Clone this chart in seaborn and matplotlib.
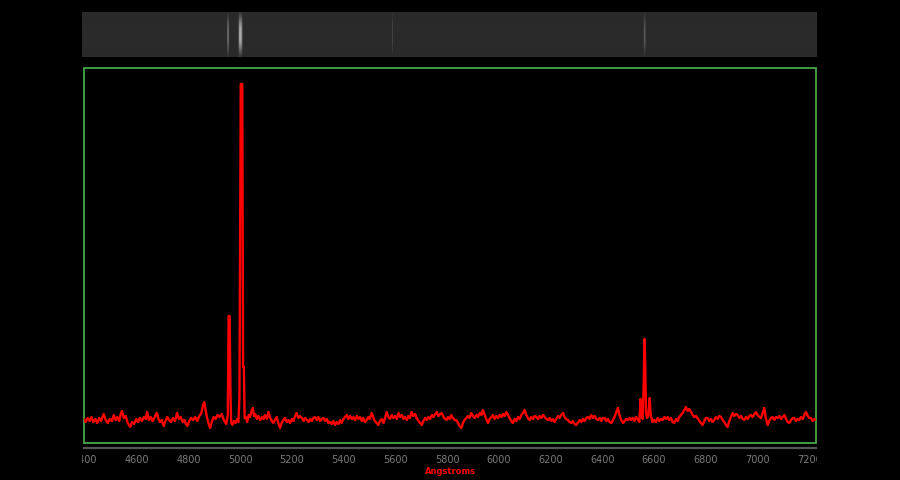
import numpy as np
import seaborn as sns
import matplotlib.pyplot as plt
from matplotlib.patches import Rectangle
from matplotlib.transforms import Bbox, TransformedBbox

# spectrum (flux in arbitrary units, continuum ~24)
blue_wl = [4395, 4402, 4410, 4418, 4425, 4432, 4440, 4447, 4455, 4462, 4472, 4480, 4488, 4496, 4504,
           4511, 4518, 4525, 4532, 4538, 4543, 4550, 4557, 4565, 4570, 4575, 4582, 4590, 4598, 4605,
           4612, 4620, 4628, 4635, 4640, 4647, 4654, 4661, 4668, 4673, 4678, 4684, 4690, 4697, 4704,
           4711, 4718, 4725, 4732, 4740, 4748, 4756, 4763, 4770, 4777, 4784, 4790, 4796, 4803, 4810,
           4818, 4826, 4834, 4842, 4850, 4856, 4861, 4866, 4872, 4878, 4884, 4890, 4897, 4905, 4912,
           4920, 4928, 4935, 4941, 4946, 4952, 4955, 4959, 4962, 4965, 4970, 4976, 4982, 4988, 4993,
           4997, 5002, 5008, 5011, 5014, 5017, 5022, 5027, 5033, 5038, 5044, 5049, 5053, 5058, 5064,
           5070, 5077, 5084, 5090]
blue_flux = [24, 21, 25, 22, 26, 21, 24, 20, 25, 22, 29, 23, 20, 24, 22,
             28, 23, 26, 22, 29, 32, 25, 27, 20, 18, 16, 21, 19, 24, 21,
             25, 22, 26, 24, 31, 23, 26, 22, 25, 28, 30, 24, 21, 23, 17,
             22, 26, 23, 21, 25, 22, 30, 24, 26, 21, 23, 19, 17, 22, 25,
             23, 26, 22, 27, 30, 38, 41, 33, 25, 19, 15, 21, 26, 24, 28,
             26, 29, 24, 21, 19, 28, 127, 127, 55, 20, 18, 22, 20, 24, 21,
             45, 359, 359, 76, 76, 25, 26, 21, 28, 26, 32, 35, 27, 29, 24,
             27, 23, 26, 24]

green_wl = [5096, 5103, 5109, 5116, 5122, 5128, 5134, 5141, 5147, 5154, 5160, 5167, 5173, 5180, 5187,
            5193, 5200, 5206, 5212, 5218, 5225, 5231, 5238, 5245, 5251, 5258, 5264, 5271, 5277, 5283,
            5289, 5296, 5302, 5309, 5316, 5322, 5329, 5335, 5341, 5347, 5354, 5360, 5367, 5373, 5380,
            5386, 5392, 5399, 5405, 5412, 5418, 5425, 5431, 5438, 5444, 5451, 5457, 5463, 5470, 5476,
            5482, 5489, 5495, 5501, 5508, 5514, 5520, 5527, 5534, 5540, 5547, 5554, 5560, 5566, 5573,
            5579, 5586, 5592, 5599, 5605, 5612, 5618, 5625, 5631, 5637, 5644, 5650, 5656, 5663, 5669,
            5676, 5682, 5689, 5695, 5702, 5708, 5715, 5721, 5728, 5734, 5741, 5747, 5754, 5760, 5766,
            5773, 5779, 5786, 5792, 5798]
green_flux = [28, 24, 31, 25, 22, 20, 23, 26, 20, 15, 20, 23, 25, 21, 23,
              20, 24, 22, 27, 30, 25, 27, 25, 22, 25, 23, 21, 24, 22, 25,
              26, 23, 26, 22, 24, 25, 22, 24, 20, 21, 19, 22, 18, 21, 19,
              23, 20, 24, 26, 28, 24, 27, 24, 26, 23, 27, 24, 26, 22, 25,
              21, 23, 26, 24, 30, 26, 22, 20, 18, 22, 24, 20, 25, 31, 26,
              24, 28, 25, 27, 24, 30, 26, 28, 24, 26, 23, 27, 25, 31, 27,
              29, 25, 22, 20, 18, 22, 25, 23, 26, 24, 28, 26, 29, 31, 27,
              29, 30, 26, 24, 23]

orange_wl = [5803, 5810, 5816, 5822, 5829, 5835, 5842, 5848, 5855, 5861, 5867, 5874, 5880, 5887, 5893,
             5900, 5906, 5913, 5919, 5926, 5932, 5938, 5945, 5951, 5958, 5964, 5971, 5977, 5983, 5990,
             5996, 6003, 6009, 6016, 6022, 6029, 6035, 6041, 6048, 6054, 6061, 6067, 6074, 6080, 6087,
             6093, 6099, 6106, 6112, 6119, 6125, 6132, 6138, 6145, 6151, 6158, 6164, 6171, 6177, 6184,
             6190, 6196, 6203, 6209, 6215, 6222, 6229, 6235, 6241, 6248, 6254, 6260, 6267, 6273, 6280,
             6286, 6292, 6299, 6305, 6312, 6319, 6325, 6331, 6338, 6344, 6351, 6357, 6364, 6370, 6377,
             6383, 6390, 6396, 6402, 6409, 6415, 6422, 6428, 6435, 6441, 6447, 6454, 6460, 6466, 6473,
             6480, 6486, 6492, 6499, 6505]
orange_flux = [26, 24, 28, 25, 23, 23, 20, 17, 15, 20, 23, 25, 27, 25, 30,
               27, 25, 28, 26, 30, 28, 33, 28, 24, 20, 24, 26, 28, 24, 27,
               25, 28, 26, 29, 27, 31, 28, 25, 22, 20, 24, 22, 26, 24, 28,
               30, 33, 28, 25, 23, 26, 24, 27, 26, 24, 27, 25, 28, 26, 24,
               23, 25, 22, 24, 21, 24, 27, 25, 28, 30, 26, 24, 23, 21, 20,
               22, 19, 18, 20, 23, 21, 24, 22, 25, 26, 24, 28, 25, 27, 24,
               23, 25, 22, 25, 25, 22, 24, 21, 20, 23, 26, 31, 35, 28, 23,
               20, 22, 24, 23, 25]

red_wl = [6511, 6517, 6524, 6530, 6536, 6543, 6548, 6552, 6556, 6560, 6563, 6566, 6569, 6573, 6578,
          6583, 6587, 6594, 6600, 6607, 6614, 6620, 6627, 6633, 6640, 6646, 6652, 6659, 6665, 6672,
          6678, 6685, 6691, 6697, 6704, 6710, 6717, 6723, 6730, 6736, 6743, 6749, 6756, 6762, 6768,
          6775, 6781, 6788, 6794, 6800, 6807, 6813, 6820, 6826, 6833, 6839, 6846, 6852, 6859, 6865,
          6871, 6878, 6884, 6891, 6897, 6904, 6910, 6917, 6923, 6930, 6936, 6943, 6949, 6955, 6962,
          6968, 6975, 6981, 6988, 6994, 7000, 7007, 7013, 7020, 7026, 7032, 7039, 7045, 7052, 7058,
          7065, 7071, 7078, 7084, 7091, 7097, 7104, 7110, 7117, 7123, 7130, 7136, 7142, 7149, 7155,
          7162, 7168, 7175, 7181, 7187, 7194, 7200, 7207, 7213, 7220, 7226]
red_flux = [23, 25, 22, 26, 24, 21, 44, 26, 24, 60, 104, 75, 30, 25, 28,
            45, 28, 21, 23, 21, 25, 22, 24, 23, 26, 24, 26, 23, 25, 21,
            20, 24, 22, 26, 28, 30, 33, 36, 32, 34, 31, 28, 26, 27, 25,
            22, 20, 18, 22, 25, 25, 22, 24, 21, 23, 26, 24, 27, 26, 23,
            21, 18, 16, 22, 26, 30, 27, 29, 28, 25, 27, 24, 23, 26, 24,
            27, 28, 26, 29, 31, 28, 26, 25, 30, 35, 25, 18, 22, 25, 26,
            23, 26, 25, 27, 24, 26, 28, 24, 21, 20, 23, 25, 25, 22, 24,
            23, 26, 24, 28, 31, 27, 25, 25, 22, 24, 23]

tick_values = [4400, 4600, 4800, 5000, 5200, 5400, 5600, 5800, 6000, 6200, 6400, 6600, 6800, 7000, 7200]
sky_lines = [5590]
slit_profile = [0.15, 0.35, 0.6, 0.8, 0.95, 1.0, 1.0, 1.0, 0.95, 0.8, 0.6, 0.35, 0.15]

wl = np.array(blue_wl + green_wl + orange_wl + red_wl, dtype=float)
flux = np.array(blue_flux + green_flux + orange_flux + red_flux, dtype=float)

sns.set_style('dark', {'axes.facecolor': 'black', 'figure.facecolor': 'black'})
plt.rcParams['font.family'] = ['DejaVu Sans']

W, H = 900, 480
fig = plt.figure(figsize=(9, 4.8), dpi=100, facecolor='black')
x0, x1 = 4396, 7226

# 2D spectrum strip on top
ax_img = fig.add_axes([82 / W, 1 - 57 / H, 735 / W, 45 / H])
cols = np.linspace(x0, x1, 735)
strength = np.clip((np.interp(cols, wl, flux) - 45) / 314, 0, 1) ** 0.6 * 0.5
for s in sky_lines:
    strength += 0.1 * (np.abs(cols - s) < 2.5)
img = 0.165 + np.outer(slit_profile, strength)
ax_img.imshow(img, cmap='gray', vmin=0, vmax=1, aspect='auto',
              extent=(x0, x1, 0, 1), interpolation='bilinear')
ax_img.set_axis_off()

# main spectrum
ax = fig.add_axes([84 / W, (H - 443) / H, 732 / W, 375 / H])
ax.set_facecolor('black')
sns.lineplot(x=wl, y=flux, ax=ax, color='#ff0000', linewidth=1.7, estimator=None, sort=True)
ax.set_xlim(x0, x1)
ax.set_ylim(0, 375)
ax.set_yticks([])
ax.grid(False)
for side in ['top', 'left', 'right']:
    ax.spines[side].set_visible(False)
ax.spines['bottom'].set_position(('outward', 3.5))
ax.spines['bottom'].set_color('#555555')
ax.spines['bottom'].set_linewidth(1.6)
ax.add_patch(Rectangle((0, 0), 1, 1, transform=ax.transAxes, fill=False,
                       edgecolor='#46a846', linewidth=1.3, clip_on=False))

ax.set_xticks(tick_values)
ax.set_xticklabels([str(t) for t in tick_values])
ax.tick_params(axis='x', colors='#555555', length=3.5, width=1.2, pad=1.5,
               labelsize=7, labelcolor='#7a7a7a', direction='out')
clip = TransformedBbox(Bbox([[82 / W, 0], [817 / W, 1]]), fig.transFigure)
for lab in ax.get_xticklabels():
    lab.set_clip_on(True)
    lab.set_clip_box(clip)
ax.set_xlabel('Angstroms', color='#ff0000', fontsize=6, fontweight='bold', labelpad=1.5)
ax.set_ylabel('')

fig.savefig('out.png', dpi=100, facecolor='black')
